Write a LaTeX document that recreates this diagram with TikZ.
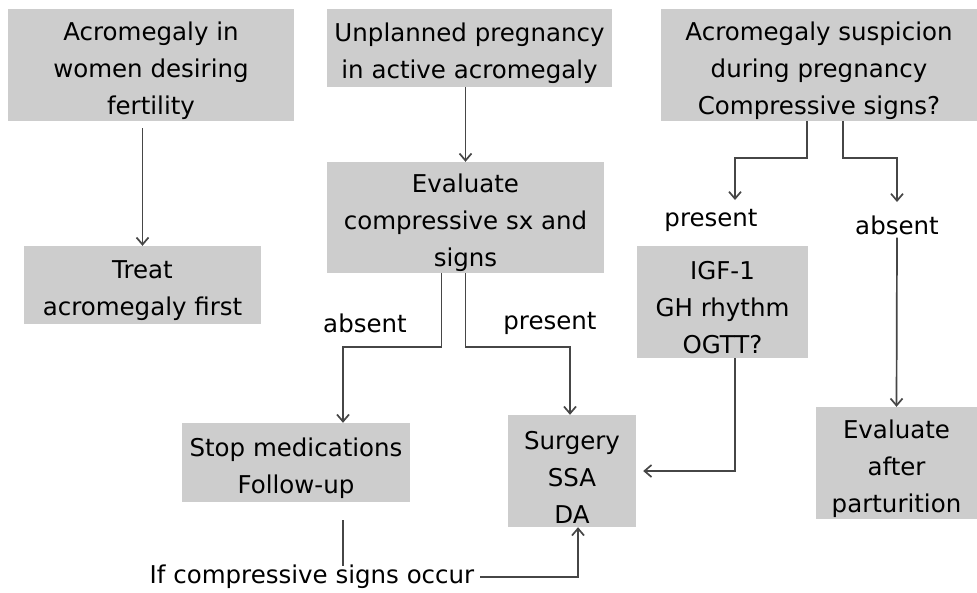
\documentclass[tikz,border=0pt]{standalone}
\usepackage{fontspec}
\setmainfont{DejaVu Sans}
\usetikzlibrary{arrows.meta}
\definecolor{boxgray}{RGB}{205,205,205}
\definecolor{linegray}{RGB}{70,70,70}
\newcommand{\flowfont}{\fontsize{24.5}{37}\selectfont}
\newcommand{\topstrut}{\rule{0pt}{30pt}}
\tikzset{
  box/.style={fill=boxgray,align=center,inner sep=0pt,font=\flowfont},
  lbl/.style={inner sep=3pt,font=\flowfont},
  conn/.style={draw=linegray,line width=1.7pt},
  arr/.style={conn,-{Straight Barb[length=7pt,width=12pt]}}
}
\begin{document}
\begin{tikzpicture}[x=1pt,y=-1pt]
  \useasboundingbox (0,0) rectangle (977,592);
  % boxes
  \node[box,minimum width=286,minimum height=112] (fert) at (151,65) {\topstrut Acromegaly in\\women desiring\\fertility};
  \node[box,minimum width=237,minimum height=78] (treat) at (142.5,285) {\topstrut Treat\\acromegaly first};
  \node[box,minimum width=285,minimum height=78] (unpl) at (469.5,48) {\topstrut Unplanned pregnancy\\in active acromegaly};
  \node[box,minimum width=277,minimum height=111] (eval) at (465.5,217.5) {\topstrut Evaluate\\compressive sx and\\signs};
  \node[box,minimum width=228,minimum height=79] (stop) at (296,462.5) {\topstrut Stop medications\\Follow-up};
  \node[box,minimum width=128,minimum height=112] (surg) at (572,471) {\topstrut Surgery\\SSA\\DA};
  \node[box,minimum width=316,minimum height=112] (susp) at (819,65) {\topstrut Acromegaly suspicion\\during pregnancy\\Compressive signs?};
  \node[box,minimum width=171,minimum height=112] (igf) at (722.5,302) {\topstrut IGF-1\\GH rhythm\\OGTT?};
  \node[box,minimum width=161,minimum height=112] (after) at (896.5,463) {\topstrut Evaluate\\after\\parturition};
  % labels
  \node[lbl] (abs1) at (365,323) {absent};
  \node[lbl] (pres1) at (550,323) {present};
  \node[lbl] (pres2) at (711,220) {present};
  \node[lbl] (abs2) at (897,225) {absent};
  \node[lbl] (occur) at (312,577) {If compressive signs occur};
  \coordinate (presk) at (735,200);
  \coordinate (absk) at (897,202);
  % connectors
  \draw[arr,shorten <=7pt] (fert.south -| treat.north) -- (treat.north);
  \draw[arr] (unpl.south -| eval.north) -- (eval.north);
  \draw[arr] ([xshift=-24pt]eval.south) -- ++(0,74) -| ([xshift=47pt]stop.north);
  \draw[arr] (eval.south) -- ++(0,74) -| ([xshift=-2pt]surg.north);
  \draw[arr] ([xshift=-12pt]susp.south) -- ++(0,37) -| (presk);
  \draw[arr] ([xshift=24pt]susp.south) -- ++(0,37) -| (absk);
  \draw[arr] (abs2.south) -- (after.north);
  \draw[arr,shorten >=7pt] ([xshift=12.5pt]igf.south) |- (surg.east);
  \draw[conn,shorten <=18pt] ([xshift=47pt]stop.south) -- ++(0,64);
  \draw[arr] ([xshift=3pt]occur.east) -| ([xshift=6pt]surg.south);
\end{tikzpicture}
\end{document}
